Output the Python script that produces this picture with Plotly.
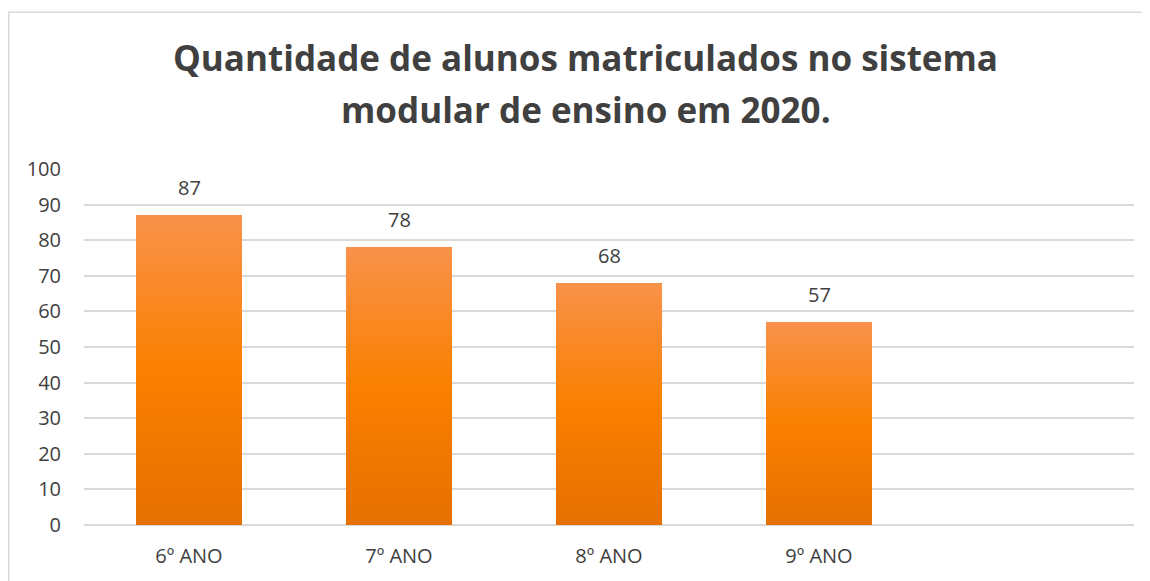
import plotly.graph_objects as go

categories = ["6º ANO", "7º ANO", "8º ANO", "9º ANO", " "]
values = [87, 78, 68, 57, None]
y_ticks = [0, 10, 20, 30, 40, 50, 60, 70, 80, 90, 100]

title_lines = ["Quantidade de alunos matriculados no sistema", "modular de ensino em 2020."]

# gradient stops (bottom -> top)
stops = [(0.0, (230, 112, 0)), (0.5, (250, 128, 0)), (1.0, (249, 146, 74))]


def lerp_color(t):
    for (t0, c0), (t1, c1) in zip(stops[:-1], stops[1:]):
        if t0 <= t <= t1:
            f = (t - t0) / (t1 - t0)
            c = [round(a + (b - a) * f) for a, b in zip(c0, c1)]
            return f"rgb({c[0]},{c[1]},{c[2]})"
    c = stops[-1][1]
    return f"rgb({c[0]},{c[1]},{c[2]})"


N = 60
fig = go.Figure()
for k in range(N):
    seg = [v / N if v is not None else None for v in values]
    fig.add_trace(go.Bar(
        x=categories, y=seg,
        marker=dict(color=lerp_color((k + 0.5) / N), line=dict(width=0)),
        width=0.505, hoverinfo="skip", showlegend=False,
    ))

for c, v in zip(categories, values):
    if v is None:
        continue
    fig.add_annotation(
        x=c, y=v, text=str(v), showarrow=False, yanchor="bottom", yshift=12,
        font=dict(family="Open Sans", size=20, color="#404040"),
    )

# page body has an 8px margin, so the figure starts at (8, 8) on screen
W, H = 1142, 573
L, R, T, B = 76, 16, 161, 55.5
pw, ph = W - L - R, H - T - B

fig.add_shape(
    type="rect", xref="paper", yref="paper",
    x0=(0.75 - L) / pw, x1=(W + 20 - L) / pw,
    y0=-(B + 20) / ph, y1=(H - B - 4) / ph,
    line=dict(color="#D9D9D9", width=1.5), fillcolor="rgba(0,0,0,0)", layer="below",
)

title_font = dict(family="Open Sans", size=35, color="#404040", weight="bold")
for line, y_bottom in zip(title_lines, [75.3, 127.3]):
    fig.add_annotation(
        text=line, xref="paper", yref="paper",
        x=(577.5 - L) / pw, xanchor="center",
        y=(H - y_bottom - B) / ph, yanchor="bottom",
        showarrow=False, font=title_font,
    )

fig.update_layout(
    width=W, height=H,
    margin=dict(l=L, r=R, t=T, b=B),
    barmode="stack", bargap=0,
    paper_bgcolor="white", plot_bgcolor="white",
    xaxis=dict(
        showgrid=False, showline=False, zeroline=False,
        tickfont=dict(family="Open Sans", size=20, color="#404040"),
        ticks="outside", ticklen=13, tickcolor="rgba(0,0,0,0)",
    ),
    yaxis=dict(
        range=[0, 100], tickvals=y_ticks, showgrid=True, gridcolor="#D9D9D9", gridwidth=1.5,
        zeroline=True, zerolinecolor="#D9D9D9", zerolinewidth=1.5, showline=False,
        tickfont=dict(family="Open Sans", size=20, color="#404040"),
        ticks="outside", ticklen=18, tickcolor="rgba(0,0,0,0)",
    ),
)

fig.write_html("out.html")
